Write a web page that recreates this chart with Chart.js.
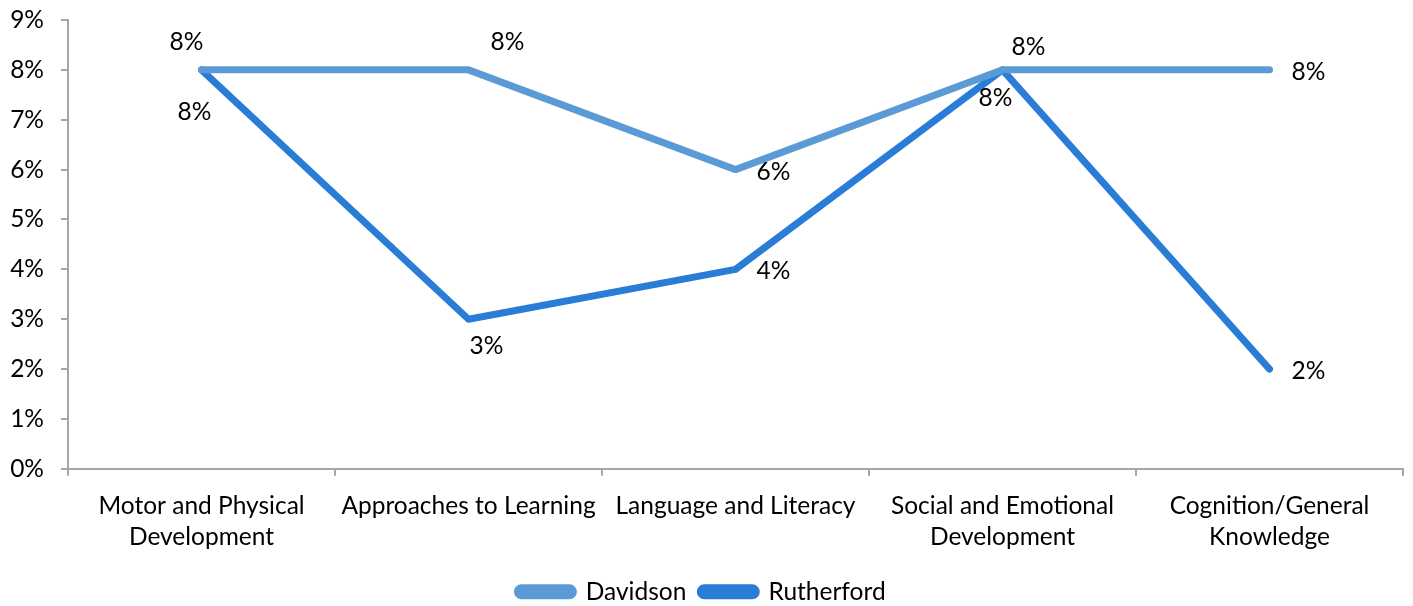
<!DOCTYPE html>
<html lang="en">
<head>
    <meta charset="UTF-8">
    <title>Development Domains</title>
    <script src="https://cdn.jsdelivr.net/npm/chart.js"></script>
    <style>
        html, body {
            margin: 0;
            padding: 0;
            background: #ffffff;
        }
        .chart-container {
            width: 1413px;
            height: 606px;
        }
    </style>
</head>
<body>
    <div class="chart-container">
        <canvas id="domainChart"></canvas>
    </div>

    <script>
        const categories = [
            ['Motor and Physical', 'Development'],
            'Approaches to Learning',
            'Language and Literacy',
            ['Social and Emotional', 'Development'],
            ['Cognition/General', 'Knowledge']
        ];
        const seriesNames = ['Davidson', 'Rutherford'];
        const davidsonValues = [8, 8, 6, 8, 8];     // percent
        const rutherfordValues = [8, 3, 4, 8, 2];   // percent
        const yTicks = [0, 1, 2, 3, 4, 5, 6, 7, 8, 9];

        const colors = ['#5B9BD5', '#2A7DD6'];
        const FONT = 'Lato, "Open Sans", sans-serif';
        const FONT_SIZE = 24.5;

        // label offsets from each point (dx, dy), per series
        const labelOffsets = [
            [[-15, -28], [39, -28], [38, 2], [26, -23], [39, 2]],
            [[-7, 42], [18, 27], [38, 2], [-7, 28], [39, 2]]
        ];

        const pointLabels = {
            id: 'pointLabels',
            afterDatasetsDraw(chart) {
                const ctx = chart.ctx;
                ctx.save();
                ctx.font = FONT_SIZE + 'px ' + FONT;
                ctx.fillStyle = '#000000';
                ctx.textAlign = 'center';
                ctx.textBaseline = 'middle';
                chart.data.datasets.forEach((ds, i) => {
                    chart.getDatasetMeta(i).data.forEach((pt, j) => {
                        const off = labelOffsets[i][j];
                        ctx.fillText(ds.data[j] + '%', pt.x + off[0], pt.y + off[1]);
                    });
                });
                ctx.restore();
            }
        };

        new Chart(document.getElementById('domainChart').getContext('2d'), {
            type: 'line',
            data: {
                labels: categories,
                datasets: [
                    {
                        label: seriesNames[0],
                        data: davidsonValues,
                        borderColor: colors[0],
                        backgroundColor: colors[0],
                        borderWidth: 7,
                        borderCapStyle: 'round',
                        borderJoinStyle: 'round',
                        pointRadius: 0,
                        tension: 0
                    },
                    {
                        label: seriesNames[1],
                        data: rutherfordValues,
                        borderColor: colors[1],
                        backgroundColor: colors[1],
                        borderWidth: 7,
                        borderCapStyle: 'round',
                        borderJoinStyle: 'round',
                        pointRadius: 0,
                        tension: 0
                    }
                ]
            },
            options: {
                responsive: true,
                maintainAspectRatio: false,
                animation: false,
                layout: {
                    padding: { left: 0, right: 10, top: 0, bottom: -8 }
                },
                plugins: {
                    legend: {
                        position: 'bottom',
                        labels: {
                            color: '#000000',
                            font: { family: FONT, size: FONT_SIZE },
                            boxWidth: 56,
                            boxHeight: 8,
                            useBorderRadius: true,
                            borderRadius: 4,
                            padding: 14
                        }
                    },
                    tooltip: { enabled: false }
                },
                scales: {
                    y: {
                        min: 0,
                        max: 9,
                        afterBuildTicks: (axis) => {
                            axis.ticks = yTicks.map(v => ({ value: v }));
                        },
                        afterFit: (axis) => {
                            axis.width = 68;
                            axis.paddingTop = 20;
                        },
                        border: { display: true, color: '#A6A6A6', width: 2 },
                        grid: {
                            drawOnChartArea: false,
                            drawTicks: true,
                            tickLength: 7,
                            color: '#A6A6A6',
                            lineWidth: 2
                        },
                        ticks: {
                            color: '#000000',
                            padding: 17,
                            font: { family: FONT, size: FONT_SIZE },
                            callback: (v) => v + '%'
                        }
                    },
                    x: {
                        offset: true,
                        afterFit: (axis) => { axis.height -= 2; },
                        border: { display: true, color: '#A6A6A6', width: 2 },
                        grid: {
                            offset: true,
                            drawOnChartArea: false,
                            drawTicks: true,
                            tickLength: 7,
                            color: '#A6A6A6',
                            lineWidth: 2
                        },
                        ticks: {
                            color: '#000000',
                            padding: 14,
                            maxRotation: 0,
                            autoSkip: false,
                            font: { family: FONT, size: FONT_SIZE, lineHeight: 1.3 }
                        }
                    }
                }
            },
            plugins: [pointLabels]
        });
    </script>
</body>
</html>
